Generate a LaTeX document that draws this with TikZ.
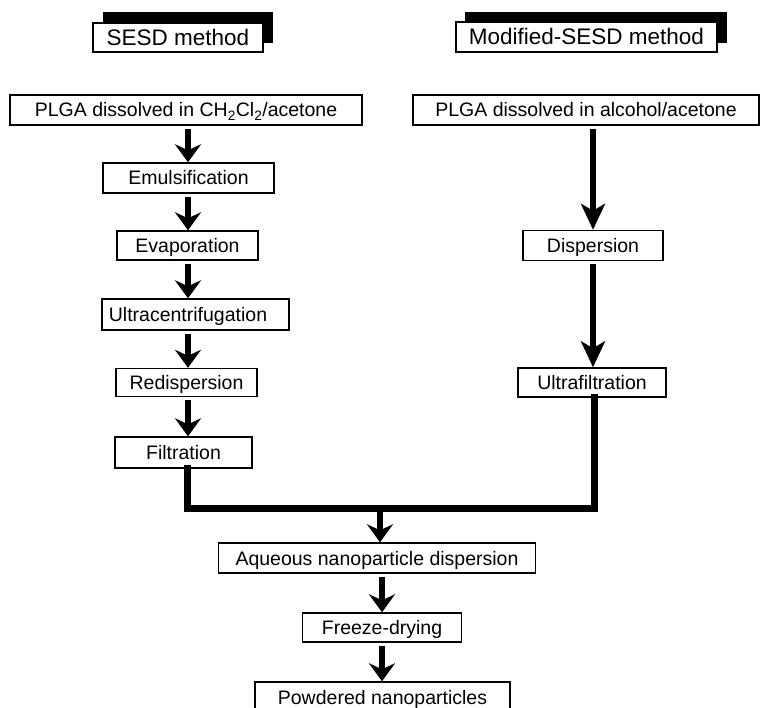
\documentclass[tikz,border=0pt]{standalone}
\usepackage{fontspec}
\setmainfont{Liberation Sans}
\usetikzlibrary{arrows.meta}
\begin{document}
\begin{tikzpicture}[x=1pt,y=-1pt,
 box/.style={draw, line width=1.4pt, fill=white, inner sep=0pt, text height=18pt, text depth=4pt, font=\fontsize{19.5}{23}\selectfont},
 headbox/.style={draw, line width=1.6pt, fill=white, inner sep=0pt, text height=20pt, text depth=4.5pt, font=\fontsize{22.5}{26}\selectfont},
 fat/.style={line width=6pt, -{Stealth[length=18pt,width=26pt,inset=6pt]}},
 longarr/.style={line width=5.5pt, -{Stealth[length=26pt,width=24pt,inset=7pt]}},
 merge/.style={line width=7pt, line join=miter, line cap=rect}]
\useasboundingbox (0,0) rectangle (768,708);
% column reference coordinates
\coordinate (colL) at (188,0);
\coordinate (colM) at (187,0);
\coordinate (colR) at (593,0);
\coordinate (colC) at (380,0);
\coordinate (colB) at (382,0);
\coordinate (mrg) at (0,508);
% headers
\fill (103,12) rectangle (273,43);
\node[headbox, minimum width=170pt, minimum height=29pt] (hL) at (178,37.5) {SESD method};
\fill (465,12) rectangle (727,43);
\node[headbox, minimum width=261pt, minimum height=30pt] (hR) at (586.5,37) {Modified-SESD method};
% left column
\node[box, minimum width=352pt, minimum height=30pt] (plgaL) at (186,110) {PLGA dissolved in CH\textsubscript{2}Cl\textsubscript{2}/acetone};
\node[box, minimum width=171pt, minimum height=30pt] (emul) at (188.5,178) {Emulsification};
\node[box, minimum width=141pt, minimum height=29pt] (evap) at (187.5,245.5) {Evaporation};
\node[box, minimum width=187pt, minimum height=31pt] (ultc) at (195.5,314.5) {Ultracentrifugation\hspace*{15pt}};
\node[box, minimum width=141pt, minimum height=28pt] (redi) at (186.5,382.5) {Redispersion};
\node[box, minimum width=137pt, minimum height=31pt] (filt) at (183.5,452.5) {Filtration};
% right column
\node[box, minimum width=346pt, minimum height=30pt] (plgaR) at (586,110) {PLGA dissolved in alcohol/acetone};
\node[box, minimum width=140pt, minimum height=30pt] (disp) at (593,245.5) {Dispersion};
\node[box, minimum width=148pt, minimum height=29pt] (ultf) at (592,382.5) {Ultrafiltration};
% bottom
\node[box, minimum width=317pt, minimum height=30pt] (aq) at (377,558) {Aqueous nanoparticle dispersion};
\node[box, minimum width=159pt, minimum height=29pt] (fd) at (382,627.5) {Freeze-drying};
\node[box, minimum width=255pt, minimum height=30pt] (pw) at (382.5,697) {Powdered nanoparticles};
% left arrows
\draw[fat] ([yshift=-3pt]plgaL.south -| colL) -- (emul.north -| colL);
\draw[fat] ([yshift=-3pt]emul.south -| colL) -- (evap.north -| colL);
\draw[fat] ([yshift=-3pt]evap.south -| colL) -- (ultc.north -| colL);
\draw[fat] ([yshift=-3pt]ultc.south -| colL) -- (redi.north -| colL);
\draw[fat] ([yshift=-3pt]redi.south -| colL) -- (filt.north -| colL);
% right arrows
\draw[longarr] ([yshift=-3pt]plgaR.south -| colR) -- (disp.north -| colR);
\draw[longarr] ([yshift=-3pt]disp.south -| colR) -- (ultf.north -| colR);
% merge
\draw[merge] (filt.south -| colM) -- (colM |- mrg) -- ([xshift=1pt]colR |- mrg) -- ([xshift=1pt]ultf.south -| colR);
\draw[fat] ([yshift=3pt]colC |- mrg) -- (aq.north -| colC);
% bottom arrows
\draw[fat] ([yshift=-3pt]aq.south -| colB) -- (fd.north -| colB);
\draw[fat] ([yshift=-3pt]fd.south -| colB) -- (pw.north -| colB);
\end{tikzpicture}
\end{document}
